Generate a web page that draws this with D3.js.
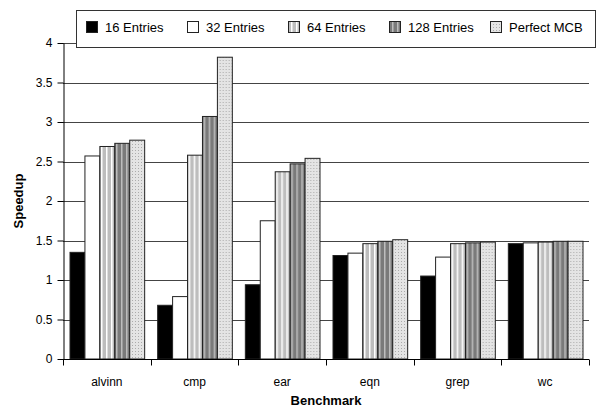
<!DOCTYPE html>
<html>
<head>
<meta charset="utf-8">
<script src="https://cdn.jsdelivr.net/npm/d3@7"></script>
<style>
  body { margin: 0; background: #fff; }
  svg { display: block; font-family: "Liberation Sans", Arial, sans-serif; }
</style>
</head>
<body>
<div id="chart"></div>
<script>
// benchmarks and series
const categories = ["alvinn", "cmp", "ear", "eqn", "grep", "wc"];
const seriesNames = ["16 Entries", "32 Entries", "64 Entries", "128 Entries", "Perfect MCB"];

const entries16 = [1.35, 0.68, 0.94, 1.31, 1.05, 1.46];
const entries32 = [2.57, 0.79, 1.75, 1.34, 1.29, 1.47];
const entries64 = [2.69, 2.58, 2.37, 1.46, 1.46, 1.48];
const entries128 = [2.73, 3.07, 2.47, 1.49, 1.47, 1.49];
const perfectMCB = [2.77, 3.82, 2.54, 1.51, 1.48, 1.49];

const yTicks = [0, 0.5, 1, 1.5, 2, 2.5, 3, 3.5, 4];

const seriesValues = [entries16, entries32, entries64, entries128, perfectMCB];
const fills = ["#000", "#fff", "url(#p64)", "url(#p128)", "url(#pperf)"];

width = 598;
height = 412;
const margin = {top: 43, right: 9, bottom: 53, left: 63};

const svg = d3.select("#chart").append("svg")
    .attr("width", width)
    .attr("height", height);

// patterns for the hatched bars
const defs = svg.append("defs");

const p64 = defs.append("pattern")
    .attr("id", "p64").attr("patternUnits", "userSpaceOnUse")
    .attr("width", 5).attr("height", 5);
p64.append("rect").attr("width", 5).attr("height", 5).attr("fill", "#bdbdbd");
p64.append("rect").attr("x", 3).attr("width", 1.5).attr("height", 5).attr("fill", "#fff");

const p128 = defs.append("pattern")
    .attr("id", "p128").attr("patternUnits", "userSpaceOnUse")
    .attr("width", 5).attr("height", 5);
p128.append("rect").attr("width", 5).attr("height", 5).attr("fill", "#7a7a7a");
p128.append("rect").attr("x", 3).attr("width", 1.5).attr("height", 5).attr("fill", "#bdbdbd");

const pperf = defs.append("pattern")
    .attr("id", "pperf").attr("patternUnits", "userSpaceOnUse")
    .attr("width", 3).attr("height", 3);
pperf.append("rect").attr("width", 3).attr("height", 3).attr("fill", "#e4e4e4");
pperf.append("rect").attr("width", 1).attr("height", 1).attr("fill", "#ababab");

const x0 = d3.scaleBand()
    .domain(categories)
    .range([margin.left, width - margin.right]);

const x1 = d3.scaleBand()
    .domain(seriesNames)
    .range([7, x0.bandwidth() - 6]);

const y = d3.scaleLinear()
    .domain([0, 4])
    .range([height - margin.bottom, margin.top]);

// gridlines
svg.append("g")
  .selectAll("line")
  .data(yTicks.filter(d => d > 0))
  .join("line")
    .attr("x1", margin.left).attr("x2", width - margin.right)
    .attr("y1", d => Math.round(y(d)) + 0.5).attr("y2", d => Math.round(y(d)) + 0.5)
    .attr("stroke", "#444").attr("stroke-width", 1);

// bars
const groups = svg.append("g")
  .selectAll("g")
  .data(categories)
  .join("g")
    .attr("transform", d => `translate(${x0(d)},0)`);

groups.selectAll("rect")
  .data((c, i) => seriesNames.map((s, j) => ({s, j, v: seriesValues[j][i]})))
  .join("rect")
    .attr("x", d => x1(d.s))
    .attr("y", d => y(d.v))
    .attr("width", x1.bandwidth())
    .attr("height", d => y(0) - y(d.v))
    .attr("fill", d => fills[d.j])
    .attr("stroke", "#222")
    .attr("stroke-width", 1);

// y axis
const yAxis = svg.append("g")
    .attr("transform", `translate(${margin.left + 0.5},0)`)
    .call(d3.axisLeft(y).tickValues(yTicks).tickSize(6).tickSizeOuter(0).tickPadding(5).tickFormat(d3.format("")));
yAxis.selectAll("text").attr("font-size", 12).attr("fill", "#000").attr("font-family", "Liberation Sans, Arial, sans-serif");
yAxis.selectAll("line, path").attr("stroke", "#000");

// x axis with ticks between categories
const xAxisG = svg.append("g")
    .attr("transform", `translate(0,${Math.round(y(0)) + 0.5})`);
xAxisG.append("line")
    .attr("x1", margin.left).attr("x2", width - margin.right)
    .attr("stroke", "#000");
xAxisG.selectAll("line.tick")
  .data(categories.map(c => x0(c)).concat([width - margin.right]))
  .join("line")
    .attr("class", "tick")
    .attr("x1", d => Math.round(d) + 0.5).attr("x2", d => Math.round(d) + 0.5)
    .attr("y1", 0).attr("y2", 6)
    .attr("stroke", "#000");
xAxisG.selectAll("text")
  .data(categories)
  .join("text")
    .attr("x", d => x0(d) + x0.bandwidth() / 2)
    .attr("y", 26)
    .attr("text-anchor", "middle")
    .attr("font-size", 12)
    .text(d => d);

// axis titles
svg.append("text")
    .attr("x", (margin.left + width - margin.right) / 2)
    .attr("y", 405)
    .attr("text-anchor", "middle")
    .attr("font-size", 13)
    .attr("font-weight", "bold")
    .text("Benchmark");

svg.append("text")
    .attr("transform", `translate(23,${(margin.top + height - margin.bottom) / 2}) rotate(-90)`)
    .attr("text-anchor", "middle")
    .attr("font-size", 13)
    .attr("font-weight", "bold")
    .text("Speedup");

// legend
const legend = svg.append("g");
legend.append("rect")
    .attr("x", 76.5).attr("y", 10.5)
    .attr("width", 519).attr("height", 37)
    .attr("fill", "#fff")
    .attr("stroke", "#333");

const legendItem = legend.selectAll("g")
  .data(seriesNames)
  .join("g")
    .attr("transform", (d, i) => `translate(${86 + i * 101},0)`);
legendItem.append("rect")
    .attr("x", 0.5).attr("y", 21.5)
    .attr("width", 11).attr("height", 11)
    .attr("fill", (d, i) => fills[i])
    .attr("stroke", "#222");
legendItem.append("text")
    .attr("x", 19).attr("y", 32)
    .attr("font-size", 13)
    .text(d => d);
</script>
</body>
</html>
